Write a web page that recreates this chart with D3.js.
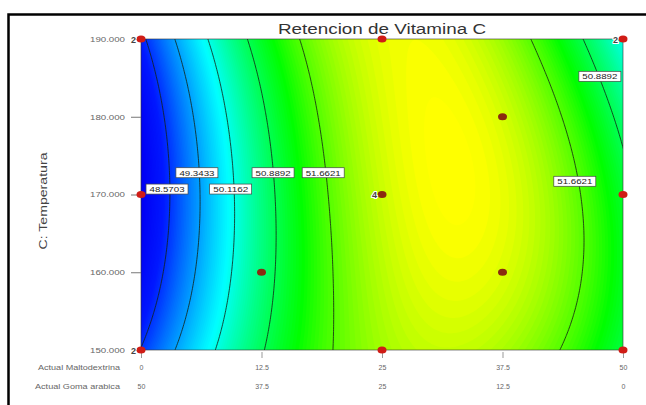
<!DOCTYPE html>
<html>
<head>
<meta charset="utf-8">
<script src="https://cdn.jsdelivr.net/npm/d3@7"></script>
<style>
  body { margin: 0; background: #fff; }
  svg { display: block; }
  text { font-family: Arial, "Liberation Sans", sans-serif; }
</style>
</head>
<body>
<div id="viz"></div>
<script>
// axis values
const maltodextrina = [0, 12.5, 25, 37.5, 50];
const gomaArabica = [50, 37.5, 25, 12.5, 0];
const temperatura = [150, 160, 170, 180, 190];

// design points: maltodextrina, temperatura, replicas
const designM = [0, 25, 50, 0, 25, 50, 0, 25, 50, 12.5, 37.5, 37.5];
const designT = [190, 190, 190, 170, 170, 170, 150, 150, 150, 160, 180, 160];
const designN = [2, 1, 2, 1, 4, 1, 2, 1, 1, 1, 1, 1];
const designInner = [0, 0, 0, 0, 1, 0, 0, 0, 0, 1, 1, 1];

// contour levels and where their labels sit
const levels = [48.5703, 49.3433, 50.1162, 50.8892, 51.6621];
const labelLevel = [0, 1, 2, 3, 4, 4, 3];
const labelM = [2.7, 5.8, 9.3, 13.7, 18.9, 45.0, 47.6];
const labelT = [170.7, 172.8, 170.7, 172.8, 172.8, 171.7, 185.2];

// fitted surface (coded A = maltodextrina, B = temperatura), terms: 1, B, B^2
const coefA0 = [52.178, 0.153, -0.026];
const coefA1 = [1.634, -0.168, -0.648];
const coefA2 = [-2.76, -0.41, 0.14];

const width = 646, height = 405;
const x = d3.scaleLinear().domain([0, 50]).range([141, 623]);
const y = d3.scaleLinear().domain([150, 190]).range([350, 39]);

const color = d3.scaleLinear()
    .domain([47.8, 48.4, 50.0, 51.3, 52.4])
    .range(['#0000f4', '#0018ff', '#00ffff', '#00ff00', '#ffff00'])
    .clamp(true);

function response(m, t) {
    let a = (m - 25) / 25, b = (t - 170) / 20;
    let c0 = coefA0[0] + coefA0[1] * b + coefA0[2] * b * b;
    let c1 = coefA1[0] + coefA1[1] * b + coefA1[2] * b * b;
    let c2 = coefA2[0] + coefA2[1] * b + coefA2[2] * b * b;
    return c0 + c1 * a + c2 * a * a;
}

// grid a bit larger than the plot so contour edges fall outside the clip
const nx = 220, ny = 140;
const mLo = -1.5, mHi = 51.5, tLo = 148.5, tHi = 191.5;
const dm = (mHi - mLo) / (nx - 1), dt = (tHi - tLo) / (ny - 1);
const grid = new Array(nx * ny);
for (let j = 0; j < ny; j++) {
    for (let i = 0; i < nx; i++) {
        grid[j * nx + i] = response(mLo + i * dm, tHi - j * dt);
    }
}

const proj = d3.geoTransform({
    point: function(px, py) {
        this.stream.point(x(mLo + px * dm), y(tHi - py * dt));
    }
});
const path = d3.geoPath(proj);

const svg = d3.select('#viz')
    .append('svg')
    .attr('width', width)
    .attr('height', height);

svg.append('defs').append('clipPath')
    .attr('id', 'plotclip')
    .append('rect')
    .attr('x', x(0)).attr('y', y(190))
    .attr('width', x(50) - x(0)).attr('height', y(150) - y(190));

// outer frame
svg.append('rect')
    .attr('x', 8.5).attr('y', 14.5)
    .attr('width', 700).attr('height', 500)
    .attr('fill', 'none')
    .attr('stroke', '#000')
    .attr('stroke-width', 2.5);

const plot = svg.append('g').attr('clip-path', 'url(#plotclip)');

const step = 0.04;
const bands = d3.range(46.8, 52.6, step);
plot.selectAll('path.band')
    .data(d3.contours().size([nx, ny]).thresholds(bands)(grid))
    .enter()
    .append('path')
    .attr('class', 'band')
    .attr('d', path)
    .attr('fill', d => color(d.value + step / 2));

plot.selectAll('path.level')
    .data(d3.contours().size([nx, ny]).thresholds(levels)(grid))
    .enter()
    .append('path')
    .attr('class', 'level')
    .attr('d', path)
    .attr('fill', 'none')
    .attr('stroke', '#142014')
    .attr('stroke-opacity', 0.8)
    .attr('stroke-width', 1);

svg.append('rect')
    .attr('x', x(0)).attr('y', y(190))
    .attr('width', x(50) - x(0)).attr('height', y(150) - y(190))
    .attr('fill', 'none')
    .attr('stroke', '#333')
    .attr('stroke-opacity', 0.6)
    .attr('stroke-width', 1);

// y axis
const yAxis = svg.append('g')
    .attr('transform', `translate(${x(0)},0)`)
    .call(d3.axisLeft(y).tickValues(temperatura).tickFormat(d3.format('.3f')).tickSize(10).tickPadding(6));
yAxis.select('.domain').remove();
yAxis.selectAll('line').attr('stroke', '#777');
yAxis.selectAll('text')
    .attr('font-size', 7)
    .attr('fill', '#666')
    .attr('textLength', 35)
    .attr('lengthAdjust', 'spacingAndGlyphs');

svg.append('text')
    .attr('transform', 'translate(47,201) rotate(-90)')
    .attr('text-anchor', 'middle')
    .attr('font-size', 10)
    .attr('fill', '#444')
    .attr('textLength', 97)
    .attr('lengthAdjust', 'spacingAndGlyphs')
    .text('C: Temperatura');

// x axis, two rows
const xAxis1 = svg.append('g')
    .attr('transform', `translate(0,${y(150) + 2})`)
    .call(d3.axisBottom(x).tickValues(maltodextrina).tickSize(6).tickPadding(7)
        .tickFormat(d => String(d)));
const xAxis2 = svg.append('g')
    .attr('transform', `translate(0,${y(150) + 21})`)
    .call(d3.axisBottom(x).tickValues(maltodextrina).tickSize(0).tickPadding(13)
        .tickFormat((d, i) => String(gomaArabica[i])));
[xAxis1, xAxis2].forEach(g => {
    g.select('.domain').remove();
    g.selectAll('line').attr('stroke', '#999');
    g.selectAll('text').attr('font-size', 7).attr('fill', '#666');
});

svg.append('text')
    .attr('x', 120).attr('y', 370)
    .attr('text-anchor', 'end')
    .attr('font-size', 7)
    .attr('fill', '#666')
    .attr('textLength', 82)
    .attr('lengthAdjust', 'spacingAndGlyphs')
    .text('Actual Maltodextrina');
svg.append('text')
    .attr('x', 120).attr('y', 389)
    .attr('text-anchor', 'end')
    .attr('font-size', 7)
    .attr('fill', '#666')
    .attr('textLength', 85)
    .attr('lengthAdjust', 'spacingAndGlyphs')
    .text('Actual Goma arabica');

// contour labels
const lab = svg.selectAll('g.lab')
    .data(labelLevel)
    .enter()
    .append('g')
    .attr('class', 'lab')
    .attr('transform', (d, i) => `translate(${x(labelM[i])},${y(labelT[i])})`);
lab.append('rect')
    .attr('x', -21).attr('y', -5)
    .attr('width', 42).attr('height', 10)
    .attr('fill', '#fff')
    .attr('stroke', '#444')
    .attr('stroke-width', 0.7);
lab.append('text')
    .attr('text-anchor', 'middle')
    .attr('y', 3)
    .attr('font-size', 8)
    .attr('fill', '#222')
    .attr('textLength', 35)
    .attr('lengthAdjust', 'spacingAndGlyphs')
    .text(d => levels[d].toFixed(4));

// design points
svg.selectAll('ellipse.pt')
    .data(designM)
    .enter()
    .append('ellipse')
    .attr('class', 'pt')
    .attr('cx', d => x(d))
    .attr('cy', (d, i) => y(designT[i]))
    .attr('rx', 4.5).attr('ry', 3.5)
    .attr('fill', (d, i) => designInner[i] ? '#8a2a10' : '#d01c16');

const repIdx = d3.range(designN.length).filter(i => designN[i] > 1);
svg.selectAll('text.rep')
    .data(repIdx)
    .enter()
    .append('text')
    .attr('class', 'rep')
    .attr('x', i => x(designM[i]) - 5)
    .attr('y', i => y(designT[i]) + 3.5)
    .attr('text-anchor', 'end')
    .attr('font-size', 9)
    .attr('font-weight', 'bold')
    .attr('fill', '#444')
    .attr('stroke', '#fff')
    .attr('stroke-width', 2)
    .attr('paint-order', 'stroke')
    .text(i => designN[i]);

// title
svg.append('text')
    .attr('x', (x(0) + x(50)) / 2).attr('y', 34)
    .attr('text-anchor', 'middle')
    .attr('font-size', 14)
    .attr('fill', '#333')
    .attr('textLength', 208)
    .attr('lengthAdjust', 'spacingAndGlyphs')
    .text('Retencion de Vitamina C');
</script>
</body>
</html>
